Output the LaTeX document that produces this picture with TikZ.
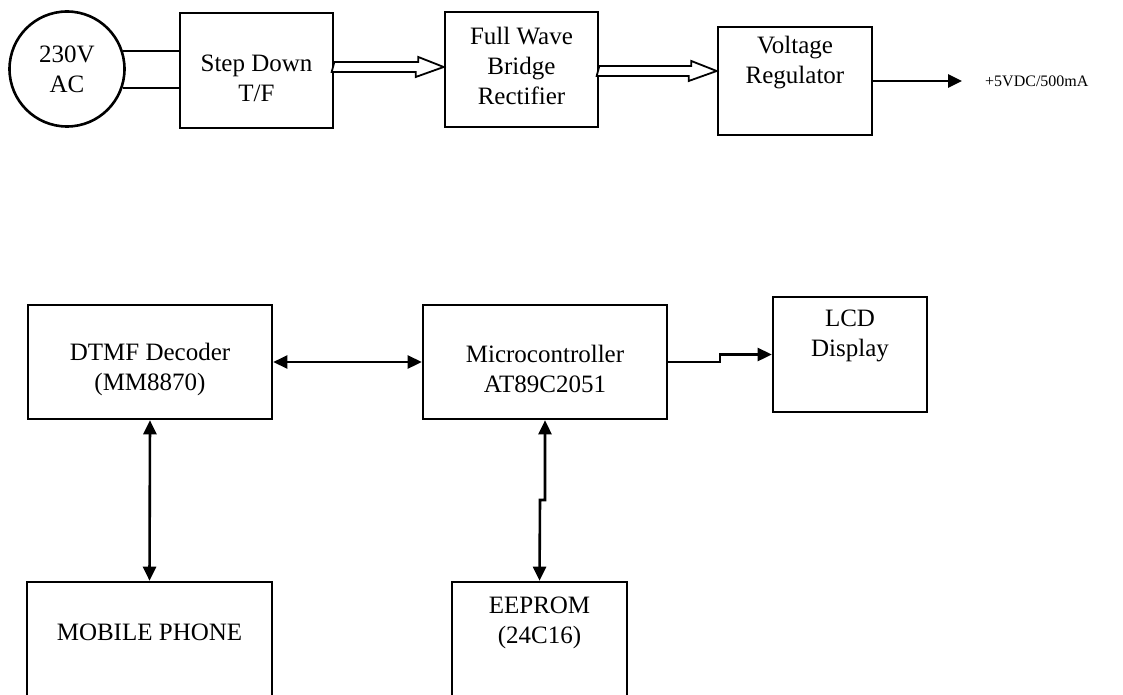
\documentclass[tikz,border=0pt]{standalone}
\usepackage{fontspec}
\setmainfont{Liberation Serif}
\usetikzlibrary{arrows.meta}
\begin{document}
\begin{tikzpicture}[x=1pt,y=-1pt,
  blk/.style={draw, line width=2.6pt, inner sep=0pt},
  lbl/.style={align=center, font=\fontsize{25}{30}\selectfont, inner sep=0pt},
  conn/.style={line width=2.6pt},
  arr/.style={conn, -{Triangle[length=14pt,width=13pt]}},
  darr/.style={conn, {Triangle[length=14pt,width=13pt]}-{Triangle[length=14pt,width=13pt]}},
  hollow/.style={draw, line width=1.8pt, fill=white, line join=miter}]
\useasboundingbox (0,0) rectangle (1123,695);
\clip (0,0) rectangle (1123,695);

% power supply chain
\node[blk, circle, minimum size=115pt, lbl] (src) at (67,69) {230V\\AC};
\node[blk, minimum width=153pt, minimum height=115pt] (step) at (256.5,70.5) {};
\node[blk, minimum width=153pt, minimum height=115pt] (full) at (521.5,69.5) {};
\node[blk, minimum width=154pt, minimum height=108pt] (volt) at (795,81) {};
\node[lbl] (stepT) at (256.5,78) {Step Down\\T/F};
\node[lbl] (fullT) at (521.5,66) {Full Wave\\Bridge\\Rectifier};
\node[lbl] (voltT) at (795,63) {Voltage\\Regulator};
\node[anchor=west, inner sep=0pt, font=\fontsize{16}{19}\selectfont] (out) at (985,81) {+5VDC/500mA};

\draw[conn] (src.18) -- (src.18 -| step.west);
\draw[conn] (src.-19) -- (src.-19 -| step.west);

\coordinate (h1) at (step.east |- 0,67);
\draw[hollow] (h1) ++(0,-5) -- ++(84,0) -- ++(0,-5) -- (full.west |- h1) -- ++(-28,10) -- ++(0,-5) -- ++(-84,0) -- cycle;
\coordinate (h2) at (full.east |- 0,71);
\draw[hollow] (h2) ++(0,-5) -- ++(92,0) -- ++(0,-5) -- (volt.west |- h2) -- ++(-28,10) -- ++(0,-5) -- ++(-92,0) -- cycle;

\draw[arr] (volt.east) -- ([xshift=-23pt]out.west);

% controller section
\node[blk, minimum width=244pt, minimum height=114pt] (dtmf) at (150,362) {};
\node[blk, minimum width=244pt, minimum height=114pt] (micro) at (545,362) {};
\node[blk, minimum width=154pt, minimum height=115pt] (lcd) at (850,354.5) {};
\node[blk, minimum width=245pt, minimum height=158pt] (mobile) at (149.5,661) {};
\node[blk, minimum width=175pt, minimum height=158pt] (eeprom) at (539.5,661) {};

\node[lbl] (dtmfT) at (150,369) {DTMF Decoder\\(MM8870)};
\node[lbl] (microT) at (545,369) {Microcontroller\\AT89C2051};
\node[lbl] (lcdT) at (850,336) {LCD\\Display};
\node[lbl] (mobileT) at (149.5,632) {MOBILE PHONE};
\node[lbl] (eepromT) at (539.5,623) {EEPROM\\(24C16)};

\draw[darr] (dtmf.east) -- (micro.west);
\coordinate (j1) at (720,362);
\draw[arr] (micro.east) -- (j1) |- (lcd.west);
\draw[darr] (dtmf.south) -- (mobile.north);
\coordinate (j2) at (540,500);
\draw[darr] (micro.south) |- (j2) -- (eeprom.north);
\end{tikzpicture}
\end{document}
